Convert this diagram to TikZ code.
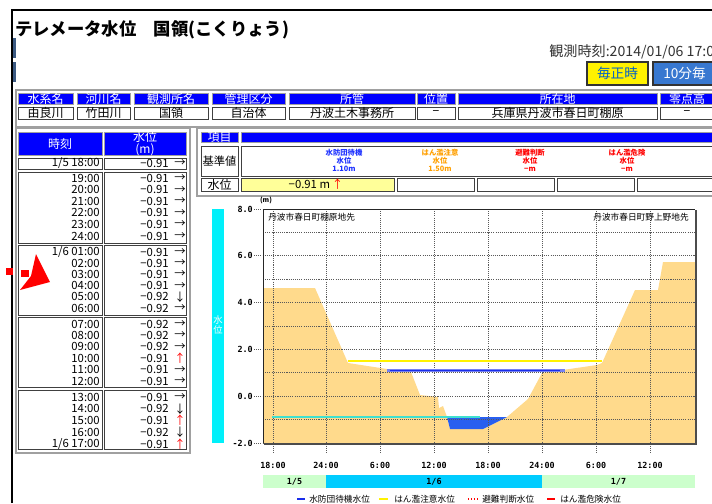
\documentclass[tikz,border=0pt]{standalone}
\usepackage{fontspec}
\setmainfont{Noto Sans CJK JP}
\newfontfamily\monofnt{DejaVu Sans Mono}
\definecolor{hdrblue}{RGB}{0,0,255}
\definecolor{ground}{RGB}{255,218,140}
\definecolor{waterblue}{RGB}{40,95,240}
\definecolor{lvlblue}{RGB}{25,45,235}
\definecolor{surf}{RGB}{64,224,208}
\definecolor{cyanbar}{RGB}{0,240,250}
\definecolor{datecyan}{RGB}{0,204,255}
\definecolor{dategreen}{RGB}{204,255,204}
\definecolor{btnblue}{RGB}{56,120,208}
\definecolor{btntext}{RGB}{0,96,200}
\definecolor{valyellow}{RGB}{255,255,153}
\definecolor{warnorange}{RGB}{255,160,0}
\definecolor{framegray}{RGB}{160,160,160}
\definecolor{sidebar}{RGB}{60,90,130}
\definecolor{lvltext}{RGB}{30,50,255}
\newcommand\ArR{→}
\newcommand\ArD{↓}
\newcommand\ArU{\textcolor{red}{↑}}
\newcommand\mycell[7]{%
  \path[#1] (#2,#3) rectangle (#4,#5);
  \node[celltext] (#6) at ({(#2+#4)/2},{(#3+#5)/2}) {#7};}
\newcommand\trow[5]{%
  \node[tabtxt,anchor=east] (tm#1) at (100,#2) {#3};
  \node[tabtxt,anchor=east] (wv#1) at (169,#2) {#4};
  \node[tabtxt] (ar#1) at (180,#2) {#5};}
\begin{document}
\begin{tikzpicture}[x=0.75pt,y=-0.75pt,
  celltext/.style={inner sep=0pt, font=\fontsize{9}{9}\selectfont},
  tabtxt/.style={inner sep=0pt, font=\fontsize{8.5}{9}\selectfont},
  hdrcell/.style={fill=hdrblue, draw=framegray, line width=0.6pt},
  datacell/.style={fill=white, draw=black!75, line width=0.6pt},
  outerframe/.style={draw=framegray, line width=1.3pt},
  gridline/.style={draw=black!65, line width=0.5pt, dash pattern=on 0.8pt off 0.8pt},
  ticklbl/.style={inner sep=0pt, font=\monofnt\bfseries\fontsize{6.3}{7}\selectfont},
  lvltxt/.style={inner sep=0pt, align=center, font=\fontsize{5.5}{6}\selectfont\bfseries},
  legtxt/.style={inner sep=0pt, anchor=west, font=\fontsize{6.5}{7}\selectfont}]
\useasboundingbox (0,0) rectangle (712,503);
\fill[white] (0,0) rectangle (712,503);
\clip (0,0) rectangle (712,503);

% outer frame and side marks
\draw[line width=1.5pt] (12,503) -- (12,10) -- (716,10);
\fill[sidebar] (12.5,38) rectangle (15.5,58);
\fill[sidebar] (12.5,62) rectangle (15.5,82);

% title and time stamp
\node[anchor=west, inner sep=0pt, font=\fontsize{13}{14}\selectfont\bfseries] (title) at (15,30) {テレメータ水位　国領(こくりょう)};
\node[anchor=west, inner sep=0pt, font=\fontsize{10.6}{11}\selectfont, text=black!80] (obs) at (549,52) {観測時刻:2014/01/06 17:00};

% buttons
\path[fill=yellow, draw=black!80, line width=1.3pt] (587,62) rectangle (648,85);
\node[inner sep=0pt, text=btntext, font=\fontsize{10.25}{11}\selectfont] (btn1) at (617.5,73.5) {毎正時};
\path[fill=btnblue, draw=black!80, line width=1.3pt] (653,62) rectangle (716,85);
\node[inner sep=0pt, anchor=west, text=white, font=\fontsize{10.25}{11}\selectfont] (btn2) at (663,73.5) {10分毎};

% info table
\draw[outerframe] (16,90) rectangle (720,127);
\mycell{hdrcell}{18}{93}{73}{104}{h1}{\textcolor{white}{水系名}}
\mycell{hdrcell}{77}{93}{130}{104}{h2}{\textcolor{white}{河川名}}
\mycell{hdrcell}{134}{93}{208}{104}{h3}{\textcolor{white}{観測所名}}
\mycell{hdrcell}{212}{93}{285}{104}{h4}{\textcolor{white}{管理区分}}
\mycell{hdrcell}{289}{93}{415}{104}{h5}{\textcolor{white}{所管}}
\mycell{hdrcell}{417}{93}{455}{104}{h6}{\textcolor{white}{位置}}
\mycell{hdrcell}{458}{93}{657}{104}{h7}{\textcolor{white}{所在地}}
\mycell{hdrcell}{660}{93}{714}{104}{h8}{\textcolor{white}{零点高}}
\mycell{datacell}{18}{107}{73}{119}{d1}{由良川}
\mycell{datacell}{77}{107}{130}{119}{d2}{竹田川}
\mycell{datacell}{134}{107}{208}{119}{d3}{国領}
\mycell{datacell}{212}{107}{285}{119}{d4}{自治体}
\mycell{datacell}{289}{107}{415}{119}{d5}{丹波土木事務所}
\mycell{datacell}{417}{107}{455}{119}{d6}{−}
\mycell{datacell}{458}{107}{657}{119}{d7}{兵庫県丹波市春日町棚原}
\mycell{datacell}{660}{107}{714}{119}{d8}{−}

% time table
\draw[outerframe] (16,128) rectangle (190,453);
\mycell{hdrcell}{18}{132}{102}{155}{th1}{\textcolor{white}{時刻}}
\path[hdrcell] (104,132) rectangle (186,155);
\node[inner sep=0pt, align=center, text=white, font=\fontsize{9}{9}\selectfont] (th2) at (145,143.5) {水位\\(m)};
\path[datacell] (18,158) rectangle (102,169);
\path[datacell] (104,158) rectangle (186,169);
\path[datacell] (18,172) rectangle (102,243);
\path[datacell] (104,172) rectangle (186,243);
\path[datacell] (18,245) rectangle (102,315);
\path[datacell] (104,245) rectangle (186,315);
\path[datacell] (18,317) rectangle (102,387);
\path[datacell] (104,317) rectangle (186,387);
\path[datacell] (18,390) rectangle (102,449);
\path[datacell] (104,390) rectangle (186,449);
\trow{0}{163.5}{1/5 18:00}{−0.91}{\ArR}
\trow{1}{178}{19:00}{−0.91}{\ArR}
\trow{2}{189.6}{20:00}{−0.91}{\ArR}
\trow{3}{201.2}{21:00}{−0.91}{\ArR}
\trow{4}{212.8}{22:00}{−0.91}{\ArR}
\trow{5}{224.4}{23:00}{−0.91}{\ArR}
\trow{6}{236}{24:00}{−0.91}{\ArR}
\trow{7}{252}{1/6 01:00}{−0.91}{\ArR}
\trow{8}{263.2}{02:00}{−0.91}{\ArR}
\trow{9}{274.4}{03:00}{−0.91}{\ArR}
\trow{10}{285.6}{04:00}{−0.91}{\ArR}
\trow{11}{296.8}{05:00}{−0.92}{\ArD}
\trow{12}{308}{06:00}{−0.92}{\ArR}
\trow{13}{324}{07:00}{−0.92}{\ArR}
\trow{14}{335.4}{08:00}{−0.92}{\ArR}
\trow{15}{346.8}{09:00}{−0.92}{\ArR}
\trow{16}{358.2}{10:00}{−0.91}{\ArU}
\trow{17}{369.6}{11:00}{−0.91}{\ArR}
\trow{18}{381}{12:00}{−0.91}{\ArR}
\trow{19}{397}{13:00}{−0.91}{\ArR}
\trow{20}{408.75}{14:00}{−0.92}{\ArD}
\trow{21}{420.5}{15:00}{−0.91}{\ArU}
\trow{22}{432.25}{16:00}{−0.92}{\ArD}
\trow{23}{444}{1/6 17:00}{−0.91}{\ArU}

% red pointer marks
\fill[red] (6,268) rectangle (13,275);
\fill[red] (21,269.5) rectangle (29,277);
\fill[red] (36,254) -- (50,282) -- (20,290) -- (31,276) -- cycle;

% reference level panel
\draw[outerframe] (197,128) rectangle (720,196);
\mycell{hdrcell}{201}{132}{238}{142}{k1}{\textcolor{white}{項目}}
\path[hdrcell] (241,132) rectangle (760,142);
\mycell{datacell}{201}{146}{238}{176}{k2}{\fontsize{8.5}{9}\selectfont 基準値}
\path[datacell] (241,146) rectangle (760,176);
\mycell{datacell}{201}{178}{238}{191}{k3}{水位}
\path[datacell, fill=valyellow] (241,178) rectangle (394,191);
\node[inner sep=0pt, font=\fontsize{8.5}{9}\selectfont] (curval) at (316,184.5) {−0.91 m\,\textcolor{red}{↑}};
\path[datacell] (397,178) rectangle (474,191);
\path[datacell] (477,178) rectangle (554,191);
\path[datacell] (557,178) rectangle (634,191);
\path[datacell] (637,178) rectangle (760,191);
\node[lvltxt, text=lvltext] (lv1) at (344,160) {水防団待機\\水位\\1.10m};
\node[lvltxt, text=warnorange] (lv2) at (440,160) {はん濫注意\\水位\\1.50m};
\node[lvltxt, text=red] (lv3) at (530,160) {避難判断\\水位\\−m};
\node[lvltxt, text=red] (lv4) at (627,160) {はん濫危険\\水位\\−m};

% chart: side bar
\fill[cyanbar] (212,209) rectangle (224,443);
\node[inner sep=0pt, align=center, text=white, font=\fontsize{7}{8}\selectfont] (ylab) at (218,325) {水\\位};
\node[inner sep=0pt, font=\fontsize{5}{5}\selectfont\bfseries] (unit) at (266,200) {(m)};

% cross section
\fill[ground] (264,443) -- (264,288) -- (315,288) -- (348,363) -- (387,369) -- (411,372)
  -- (420,395) -- (438,397) -- (439,408) -- (443,406) -- (447,417) -- (450,429)
  -- (483,429) -- (507,417) -- (528,399) -- (542,373) -- (597,365) -- (602,363)
  -- (635,290) -- (658,290) -- (663,262) -- (695,262) -- (695,443) -- cycle;
\fill[waterblue] (447,417) -- (450,429) -- (483,429) -- (507,417) -- cycle;

% grid
\foreach \k in {1,3,5,7,9} \draw[gridline] (263,{209+23.4*\k}) -- (695,{209+23.4*\k});
\foreach \k in {0,2,4,6,8,10} \draw[gridline] (254,{209+23.4*\k}) -- (695,{209+23.4*\k});
\foreach \xx in {273,326,380,434,488,542,596,650} \draw[gridline] (\xx,209) -- (\xx,453);

% level lines
\draw[yellow, line width=1.3pt] (348,361) -- (602,361);
\draw[lvlblue!60, line width=2.4pt] (387,370.5) -- (565,370.5);
\draw[lvlblue, line width=1.2pt] (390,370.5) -- (560,370.5);
\draw[surf, line width=1.6pt] (272,417) -- (480,417);

% plot frame
\draw[black!70, line width=1.2pt] (696,210) -- (696,444) -- (264,444);
\draw[black!85, line width=0.7pt] (263,443) -- (263,209) -- (695,209);

% place labels
\node[inner sep=0pt, anchor=west, font=\fontsize{6.5}{7}\selectfont] (pl1) at (268,217) {丹波市春日町棚原地先};
\node[inner sep=0pt, anchor=east, font=\fontsize{6.5}{7}\selectfont] (pl2) at (689,217) {丹波市春日町野上野地先};

% y labels
\node[ticklbl, anchor=east] (y8) at (253,209) {8.0};
\node[ticklbl, anchor=east] (y6) at (253,255.8) {6.0};
\node[ticklbl, anchor=east] (y4) at (253,302.6) {4.0};
\node[ticklbl, anchor=east] (y2) at (253,349.4) {2.0};
\node[ticklbl, anchor=east] (y0) at (253,396.2) {0.0};
\node[ticklbl, anchor=east] (ym2) at (253,443) {-2.0};

% x labels
\node[ticklbl] (x1) at (273,465) {18:00};
\node[ticklbl] (x2) at (326,465) {24:00};
\node[ticklbl] (x3) at (380,465) {6:00};
\node[ticklbl] (x4) at (434,465) {12:00};
\node[ticklbl] (x5) at (488,465) {18:00};
\node[ticklbl] (x6) at (542,465) {24:00};
\node[ticklbl] (x7) at (596,465) {6:00};
\node[ticklbl] (x8) at (650,465) {12:00};

% date bars
\fill[dategreen] (263,475) rectangle (326,488);
\fill[datecyan] (326,475) rectangle (542,488);
\fill[dategreen] (542,475) rectangle (695,488);
\node[ticklbl] (dt1) at (294.5,481.5) {1/5};
\node[ticklbl] (dt2) at (434,481.5) {1/6};
\node[ticklbl] (dt3) at (618.5,481.5) {1/7};

% legend
\draw[lvlblue, line width=0.9pt] (297,499) -- (305,499);
\node[legtxt] (lg1) at (309,499) {水防団待機水位};
\draw[yellow, line width=0.9pt] (379,499) -- (388,499);
\node[legtxt] (lg2) at (394,499) {はん濫注意水位};
\draw[red, line width=0.9pt, dash pattern=on 1pt off 1.2pt] (468,499) -- (478,499);
\node[legtxt] (lg3) at (482,499) {避難判断水位};
\draw[red, line width=0.9pt] (547,499) -- (555,499);
\node[legtxt] (lg4) at (560,499) {はん濫危険水位};
\end{tikzpicture}
\end{document}
